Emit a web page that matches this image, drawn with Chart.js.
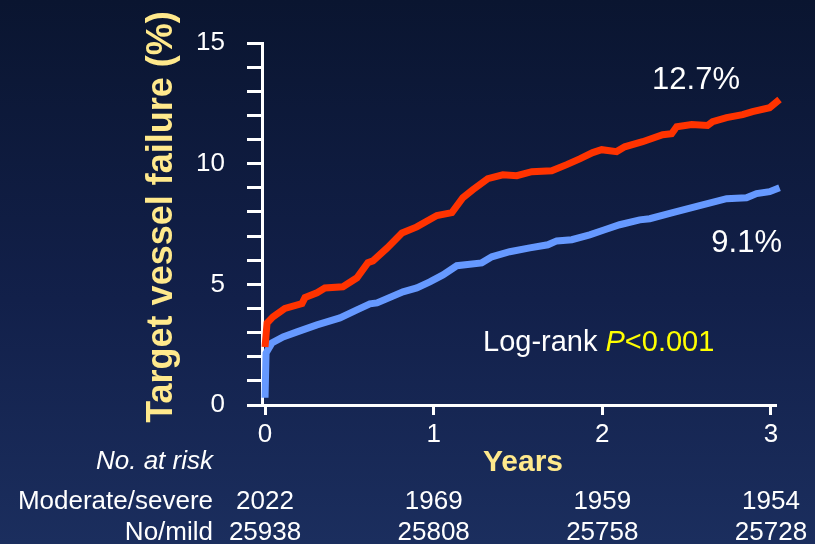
<!DOCTYPE html>
<html>
<head>
<meta charset="utf-8">
<script src="https://cdn.jsdelivr.net/npm/chart.js@4.4.1/dist/chart.umd.min.js"></script>
<style>
    html, body { margin: 0; padding: 0; }
    body {
        width: 815px; height: 544px; overflow: hidden;
        background: linear-gradient(to bottom, #0a1530 0%, #12204a 55%, #1b2e5e 100%);
    }
    #wrap { width: 815px; height: 544px; }
</style>
</head>
<body>
<div id="wrap"><canvas id="tvfChart" width="815" height="544"></canvas></div>
<script>
/*==============================================================
    DATA
==============================================================*/
const xTicks = [0, 1, 2, 3];

const severeYears = [0, 0.012, 0.047, 0.118, 0.219, 0.237, 0.308, 0.355, 0.462, 0.545,
    0.61, 0.64, 0.723, 0.812, 0.9, 1.019, 1.108, 1.173, 1.232, 1.321,
    1.41, 1.493, 1.582, 1.7, 1.789, 1.866, 1.943, 1.996, 2.085, 2.133,
    2.239, 2.358, 2.411, 2.441, 2.53, 2.624, 2.654, 2.737, 2.832, 2.891,
    2.992, 3.051];
const severePct = [2.4, 3.4, 3.65, 4.0, 4.2, 4.45, 4.65, 4.85, 4.9, 5.27,
    5.9, 5.97, 6.5, 7.13, 7.38, 7.85, 7.97, 8.59, 8.92, 9.38,
    9.54, 9.5, 9.67, 9.71, 9.96, 10.2, 10.46, 10.58, 10.5, 10.7,
    10.91, 11.2, 11.24, 11.53, 11.62, 11.58, 11.74, 11.91, 12.03, 12.16,
    12.32, 12.66];

const mildYears = [0, 0.006, 0.041, 0.107, 0.19, 0.308, 0.444, 0.545, 0.622, 0.664,
    0.818, 0.9, 0.977, 1.055, 1.137, 1.285, 1.345, 1.451, 1.57, 1.677,
    1.73, 1.819, 1.925, 2.014, 2.103, 2.222, 2.281, 2.417, 2.577, 2.737,
    2.855, 2.915, 2.992, 3.051];
const mildPct = [0.3, 2.15, 2.57, 2.82, 3.03, 3.32, 3.61, 3.94, 4.19, 4.23,
    4.69, 4.85, 5.1, 5.39, 5.77, 5.89, 6.14, 6.35, 6.51, 6.64,
    6.8, 6.85, 7.05, 7.26, 7.47, 7.67, 7.72, 7.97, 8.26, 8.55,
    8.59, 8.76, 8.84, 9.0];

const riskGroups = ["Moderate/severe", "No/mild"];
const severeAtRisk = [2022, 1969, 1959, 1954];
const mildAtRisk = [25938, 25808, 25758, 25728];

const endLabels = ["12.7%", "9.1%"];

/*==============================================================
    STYLE
==============================================================*/
const FONT = "'Liberation Sans', Arial, sans-serif";
const YELLOW_TITLE = "#ffe98c";
const RED = "#ff3300";
const BLUE = "#6699ff";

function toPoints(xs, ys) {
    return xs.map((x, i) => ({ x: x, y: ys[i] }));
}

/*==============================================================
    ANNOTATIONS
==============================================================*/
const textPlugin = {
    id: "textPlugin",
    afterDraw(chart) {
        const ctx = chart.ctx;
        const xs = chart.scales.x;
        ctx.save();
        ctx.textBaseline = "alphabetic";

        // y title
        ctx.save();
        ctx.translate(172, 217);
        ctx.rotate(-Math.PI / 2);
        ctx.font = "bold 36px " + FONT;
        ctx.fillStyle = YELLOW_TITLE;
        ctx.textAlign = "center";
        ctx.fillText("Target vessel failure (%)", 0, 0);
        ctx.restore();

        // x title
        ctx.font = "bold 30px " + FONT;
        ctx.fillStyle = YELLOW_TITLE;
        ctx.textAlign = "center";
        ctx.fillText("Years", 523, 471);

        // end values
        ctx.font = "31px " + FONT;
        ctx.fillStyle = "#ffffff";
        ctx.fillText(endLabels[0], 696, 89);
        ctx.textAlign = "right";
        ctx.fillText(endLabels[1], 782, 252);

        // log-rank
        ctx.textAlign = "left";
        ctx.font = "29px " + FONT;
        ctx.fillStyle = "#ffffff";
        let x = 483;
        ctx.fillText("Log-rank ", x, 351);
        x += ctx.measureText("Log-rank ").width;
        ctx.font = "italic 29px " + FONT;
        ctx.fillStyle = "#ffff00";
        ctx.fillText("P", x, 351);
        x += ctx.measureText("P").width;
        ctx.font = "29px " + FONT;
        ctx.fillText("<0.001", x, 351);

        // numbers at risk
        ctx.fillStyle = "#ffffff";
        ctx.textAlign = "right";
        ctx.font = "italic 26px " + FONT;
        ctx.fillText("No. at risk", 213, 469);
        ctx.font = "26px " + FONT;
        ctx.fillText(riskGroups[0], 213, 509);
        ctx.fillText(riskGroups[1], 213, 540);
        ctx.textAlign = "center";
        ctx.font = "26px " + FONT;
        xTicks.forEach((t, i) => {
            const px = xs.getPixelForValue(t);
            ctx.fillText(String(severeAtRisk[i]), px, 509);
            ctx.fillText(String(mildAtRisk[i]), px, 540);
        });
        ctx.restore();
    }
};

/*==============================================================
    CHART
==============================================================*/
function buildChart() {
    const ctx = document.getElementById("tvfChart");
    new Chart(ctx, {
        type: "line",
        data: {
            datasets: [{
                label: riskGroups[0],
                data: toPoints(severeYears, severePct),
                borderColor: RED,
                borderWidth: 7,
                pointRadius: 0,
                tension: 0,
                clip: false
            }, {
                label: riskGroups[1],
                data: toPoints(mildYears, mildPct),
                borderColor: BLUE,
                borderWidth: 7,
                pointRadius: 0,
                tension: 0,
                clip: false
            }]
        },
        options: {
            responsive: false,
            animation: false,
            layout: { padding: { top: 43, right: 39, left: 0, bottom: 0 } },
            plugins: {
                legend: { display: false },
                tooltip: { enabled: false }
            },
            scales: {
                x: {
                    type: "linear",
                    min: -0.018,
                    max: 3.03,
                    afterBuildTicks: s => { s.ticks = xTicks.map(v => ({ value: v })); },
                    afterFit: s => { s.height = 139; },
                    border: { color: "#ffffff", width: 3 },
                    grid: {
                        drawOnChartArea: false,
                        drawTicks: true,
                        tickLength: 10,
                        tickWidth: 3,
                        tickColor: "#ffffff"
                    },
                    ticks: {
                        color: "#ffffff",
                        font: { family: FONT, size: 26 },
                        padding: 4,
                        maxRotation: 0,
                        autoSkip: false
                    }
                },
                y: {
                    min: 0,
                    max: 15,
                    afterFit: s => { s.width = 262; },
                    border: { color: "#ffffff", width: 3 },
                    grid: {
                        drawOnChartArea: false,
                        drawTicks: true,
                        tickLength: 15,
                        tickWidth: 3,
                        tickColor: "#ffffff"
                    },
                    ticks: {
                        stepSize: 1,
                        autoSkip: false,
                        color: "#ffffff",
                        font: { family: FONT, size: 26 },
                        padding: 22,
                        callback: v => (v % 5 === 0 ? String(v) : "")
                    }
                }
            }
        },
        plugins: [textPlugin]
    });
}

buildChart();
</script>
</body>
</html>
